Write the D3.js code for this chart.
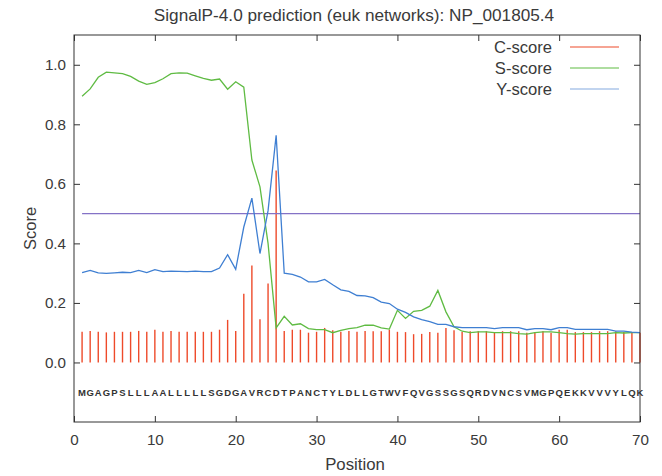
<!DOCTYPE html>
<html><head><meta charset="utf-8">
<script src="https://cdn.jsdelivr.net/npm/d3@7/dist/d3.min.js"></script>
<style>
body{margin:0;background:#fff}
svg{display:block}
text{font-family:"Liberation Sans",Arial,sans-serif;fill:#3a3a3a}
</style>
</head><body>
<svg id="chart" width="662" height="476"></svg>
<script>
const title = "SignalP-4.0 prediction (euk networks): NP_001805.4";
const sequence = "MGAGPSLLLAALLLLLSGDGAVRCDTPANCTYLDLLGTWVFQVGSSGSQRDVNCSVMGPQEKKVVVYLQK".split("");
const cScore = [0.103,0.106,0.103,0.101,0.103,0.103,0.103,0.106,0.103,0.110,
  0.103,0.106,0.103,0.103,0.103,0.103,0.103,0.110,0.143,0.106,
  0.231,0.326,0.145,0.265,0.645,0.106,0.110,0.110,0.100,0.103,
  0.116,0.108,0.103,0.106,0.103,0.106,0.105,0.105,0.110,0.103,
  0.102,0.095,0.096,0.102,0.100,0.116,0.108,0.102,0.105,0.105,
  0.105,0.102,0.105,0.105,0.105,0.100,0.102,0.105,0.100,0.110,
  0.110,0.102,0.102,0.102,0.105,0.105,0.105,0.102,0.102,0.100];
const sScore = [0.894,0.919,0.958,0.975,0.973,0.970,0.961,0.945,0.934,0.940,
  0.953,0.970,0.973,0.972,0.963,0.954,0.948,0.952,0.918,0.943,
  0.925,0.680,0.590,0.400,0.116,0.155,0.126,0.130,0.114,0.110,
  0.110,0.100,0.108,0.114,0.117,0.125,0.125,0.116,0.112,0.175,
  0.148,0.172,0.175,0.189,0.242,0.170,0.120,0.105,0.100,0.103,
  0.103,0.100,0.100,0.100,0.097,0.095,0.100,0.103,0.103,0.100,
  0.097,0.095,0.097,0.097,0.097,0.097,0.100,0.099,0.100,0.100];
const yScore = [0.302,0.309,0.301,0.299,0.301,0.303,0.302,0.309,0.302,0.312,
  0.305,0.307,0.306,0.305,0.307,0.305,0.305,0.317,0.362,0.313,
  0.455,0.552,0.366,0.510,0.763,0.300,0.296,0.287,0.271,0.271,
  0.279,0.261,0.244,0.239,0.225,0.224,0.218,0.203,0.198,0.179,
  0.168,0.153,0.144,0.137,0.128,0.128,0.120,0.117,0.117,0.117,
  0.117,0.114,0.117,0.117,0.117,0.110,0.114,0.114,0.110,0.117,
  0.117,0.111,0.111,0.111,0.111,0.111,0.105,0.105,0.102,0.100];
const threshold = 0.5;
const xTicks = [0,10,20,30,40,50,60,70];
const yTicks = [0.0,0.2,0.4,0.6,0.8,1.0];
const legendNames = ["C-score","S-score","Y-score"];
const legendColors = ["#ee4a2a","#5fbb43","#84a9df"];

const svg = d3.select("#chart");
const L = 74, R = 640, T = 35, B = 422;
const x = d3.scaleLinear().domain([0,70]).range([L,R]);
const y = d3.scaleLinear().domain([-0.2,1.1]).range([B,T]);
const pos = i => i + 1;

// title
svg.append("text").attr("x",354).attr("y",21).attr("text-anchor","middle")
  .style("font-size","17.2px").text(title);

// C-score bars
svg.append("g").selectAll("line").data(cScore).join("line")
  .attr("x1",(d,i)=>x(pos(i))).attr("x2",(d,i)=>x(pos(i)))
  .attr("y1",y(0)).attr("y2",d=>y(d))
  .attr("stroke","#ee4a2a").attr("stroke-width",1.4);

// threshold
svg.append("line").attr("x1",x(1)).attr("x2",x(70))
  .attr("y1",y(threshold)).attr("y2",y(threshold))
  .attr("stroke","#8472c6").attr("stroke-width",1.3);

const line = d3.line().x((d,i)=>x(pos(i))).y(d=>y(d));
svg.append("path").datum(sScore).attr("d",line).attr("fill","none")
  .attr("stroke","#5fbb43").attr("stroke-width",1.3);
svg.append("path").datum(yScore).attr("d",line).attr("fill","none")
  .attr("stroke","#3f7fd2").attr("stroke-width",1.3);

// sequence letters
svg.append("g").selectAll("text").data(sequence).join("text")
  .attr("x",(d,i)=>x(pos(i))).attr("y",y(-0.1)+4)
  .attr("text-anchor","middle").style("font-size","9.5px").style("font-weight","bold").style("fill","#333")
  .text(d=>d);

// axes
const tickLen = 6;
const gx = svg.append("g").attr("transform",`translate(0,${B})`)
  .call(d3.axisBottom(x).tickValues(xTicks).tickSize(-tickLen).tickPadding(12).tickFormat(d3.format("d")));
const gxt = svg.append("g").attr("transform",`translate(0,${T})`)
  .call(d3.axisTop(x).tickValues(xTicks).tickSize(-tickLen).tickFormat(""));
const gy = svg.append("g").attr("transform",`translate(${L},0)`)
  .call(d3.axisLeft(y).tickValues(yTicks).tickSize(-tickLen).tickPadding(8).tickFormat(d3.format(".1f")));
const gyr = svg.append("g").attr("transform",`translate(${R},0)`)
  .call(d3.axisRight(y).tickValues(yTicks).tickSize(-tickLen).tickFormat(""));
[gx,gxt,gy,gyr].forEach(g=>{
  g.select(".domain").remove();
  g.selectAll(".tick line").attr("stroke","#333");
  g.selectAll(".tick text").style("font-size","15.2px").style("font-family","Liberation Sans, Arial, sans-serif").attr("fill","#3a3a3a");
});
svg.append("rect").attr("x",L).attr("y",T).attr("width",R-L).attr("height",B-T)
  .attr("fill","none").attr("stroke","#333").attr("stroke-width",1);

// axis titles
svg.append("text").attr("x",355).attr("y",470).attr("text-anchor","middle")
  .style("font-size","16.8px").text("Position");
svg.append("text").attr("transform",`translate(36,${(T+B)/2}) rotate(-90)`)
  .attr("text-anchor","middle").style("font-size","16.5px").text("Score");

// legend
const lg = svg.append("g");
legendNames.forEach((n,i)=>{
  const yy = 47 + i*21;
  lg.append("text").attr("x",552).attr("y",yy+6).attr("text-anchor","end")
    .style("font-size","16.6px").text(n);
  lg.append("line").attr("x1",570).attr("x2",619).attr("y1",yy).attr("y2",yy)
    .attr("stroke",legendColors[i]).attr("stroke-width",1.2);
});
</script>
</body></html>
